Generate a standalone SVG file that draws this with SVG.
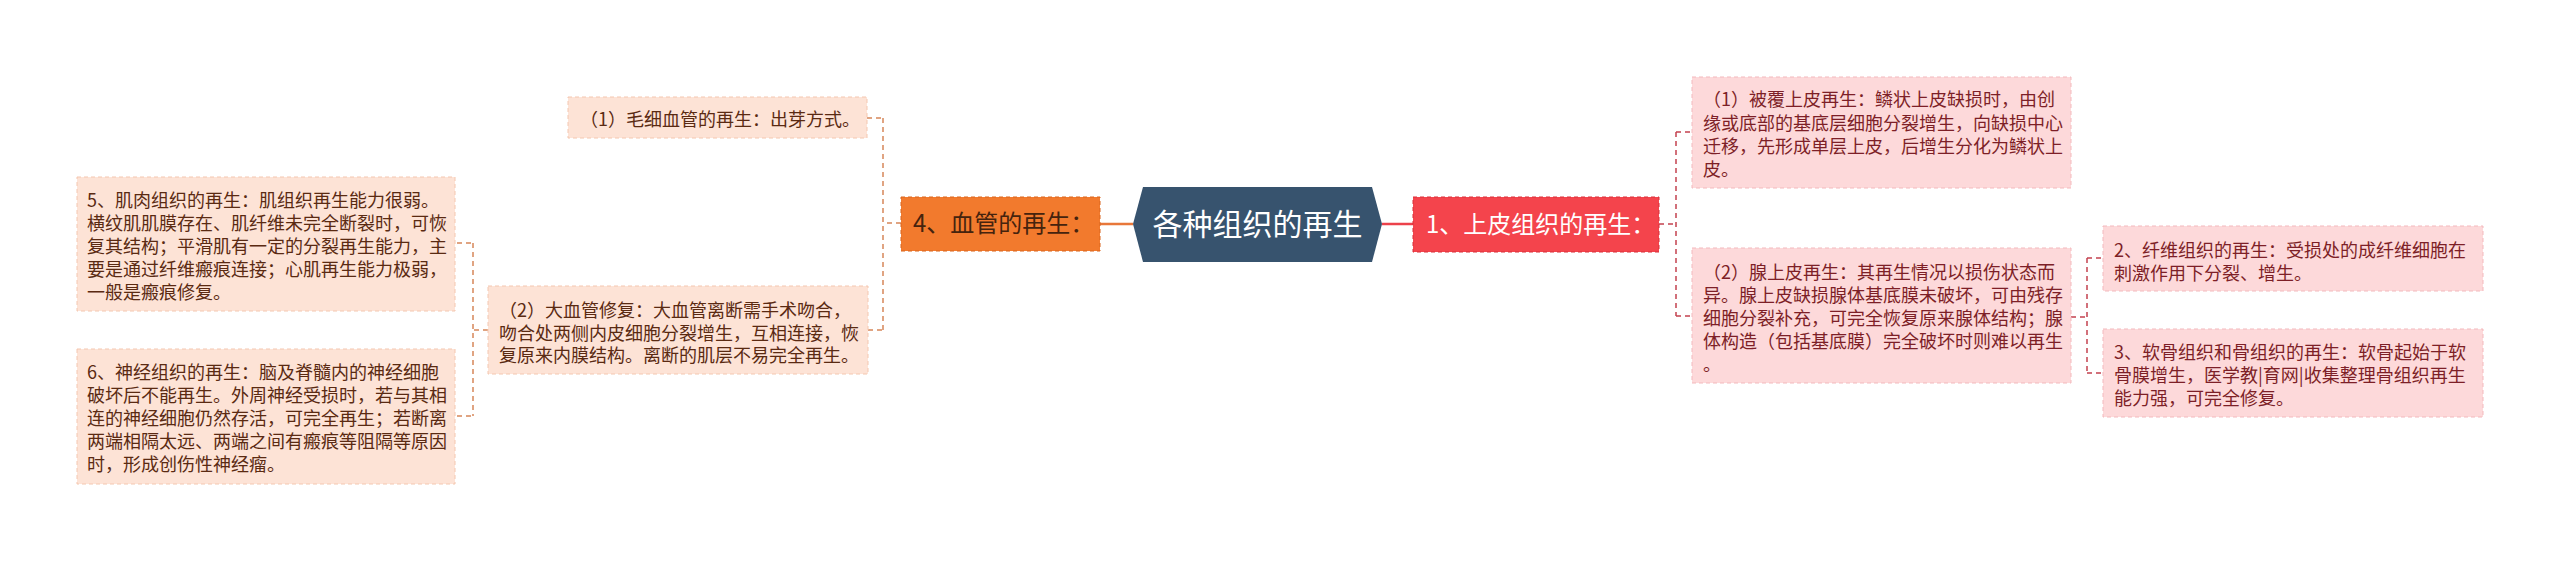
<svg xmlns="http://www.w3.org/2000/svg" width="2560" height="561" viewBox="0 0 2560 561">
<style>
text{font-family:"Noto Sans CJK SC","Noto Sans",sans-serif;}
.t18{font-size:18px;}
.lb{fill:#fde3d6;stroke:#f4c7b0;stroke-width:1;stroke-dasharray:4 3;}
.rb{fill:#fdd9da;stroke:#f3b9bd;stroke-width:1;stroke-dasharray:4 3;}
.lt{fill:#5a2a12;}
.rt{fill:#7d1f27;}
.lc{fill:none;stroke:#d6875a;stroke-width:1.5;stroke-dasharray:5 4;}
.rc{fill:none;stroke:#c4414f;stroke-width:1.5;stroke-dasharray:5 4;}
</style>
<rect width="2560" height="561" fill="#ffffff"/>
<g id="connectors">
<line x1="1100" y1="224" x2="1133" y2="224" stroke="#e8773a" stroke-width="2.5"/>
<line x1="1382" y1="224" x2="1413" y2="224" stroke="#ec424b" stroke-width="2.5"/>
<path class="lc" d="M901 223 H883 M883 118 V330 M867 118 H883 M868 330 H883"/>
<path class="lc" d="M488 330 H473 M473 243 V416 M457 243 H473 M457 416 H473"/>
<path class="rc" d="M1659 224 H1676 M1676 132 V316 M1676 132 H1692 M1676 316 H1692"/>
<path class="rc" d="M2071 317 H2087 M2087 258 V373 M2087 258 H2103 M2087 373 H2103"/>
</g>
<g id="root">
<polygon points="1133,224 1143,187 1372,187 1382,224 1372,262 1143,262" fill="#37536e"/>
<text x="1257.5" y="235" font-size="30" fill="#ffffff" text-anchor="middle">各种组织的再生</text>
</g>
<g id="n4">
<rect x="901" y="197" width="199" height="54" fill="#f27a2d" stroke="#d9641d" stroke-width="1" stroke-dasharray="4 3"/>
<text x="913" y="232" font-size="24" fill="#45230e">4、血管的再生：</text>
</g>
<g id="n4-1">
<rect class="lb" x="568" y="97" width="299" height="41"/>
<text class="t18 lt" x="580" y="126">（1）毛细血管的再生：出芽方式。</text>
</g>
<g id="n4-2">
<rect class="lb" x="488" y="286" width="380" height="88"/>
<text class="t18 lt"><tspan x="499" y="316.5">（2）大血管修复：大血管离断需手术吻合，</tspan><tspan x="499" y="339.5">吻合处两侧内皮细胞分裂增生，互相连接，恢</tspan><tspan x="499" y="362">复原来内膜结构。离断的肌层不易完全再生。</tspan></text>
</g>
<g id="n5">
<rect class="lb" x="77" y="177" width="378" height="134"/>
<text class="t18 lt"><tspan x="87" y="206.5">5、肌肉组织的再生：肌组织再生能力很弱。</tspan><tspan x="87" y="229.5">横纹肌肌膜存在、肌纤维未完全断裂时，可恢</tspan><tspan x="87" y="252.5">复其结构；平滑肌有一定的分裂再生能力，主</tspan><tspan x="87" y="275.5">要是通过纤维瘢痕连接；心肌再生能力极弱，</tspan><tspan x="87" y="298.5">一般是瘢痕修复。</tspan></text>
</g>
<g id="n6">
<rect class="lb" x="77" y="349" width="378" height="135"/>
<text class="t18 lt"><tspan x="87" y="378.5">6、神经组织的再生：脑及脊髓内的神经细胞</tspan><tspan x="87" y="401.5">破坏后不能再生。外周神经受损时，若与其相</tspan><tspan x="87" y="424.5">连的神经细胞仍然存活，可完全再生；若断离</tspan><tspan x="87" y="447.5">两端相隔太远、两端之间有瘢痕等阻隔等原因</tspan><tspan x="87" y="470.5">时，形成创伤性神经瘤。</tspan></text>
</g>
<g id="n1">
<rect x="1413" y="197" width="246" height="55" fill="#f4444c" stroke="#d92f38" stroke-width="1" stroke-dasharray="4 3"/>
<text x="1426" y="233" font-size="24" fill="#ffffff">1、上皮组织的再生：</text>
</g>
<g id="n1-1">
<rect class="rb" x="1692" y="77" width="379" height="111"/>
<text class="t18 rt"><tspan x="1703" y="106">（1）被覆上皮再生：鳞状上皮缺损时，由创</tspan><tspan x="1703" y="129.5">缘或底部的基底层细胞分裂增生，向缺损中心</tspan><tspan x="1703" y="152.5">迁移，先形成单层上皮，后增生分化为鳞状上</tspan><tspan x="1703" y="175.5">皮。</tspan></text>
</g>
<g id="n1-2">
<rect class="rb" x="1692" y="248" width="379" height="135"/>
<text class="t18 rt"><tspan x="1703" y="278.5">（2）腺上皮再生：其再生情况以损伤状态而</tspan><tspan x="1703" y="301.5">异。腺上皮缺损腺体基底膜未破坏，可由残存</tspan><tspan x="1703" y="324.5">细胞分裂补充，可完全恢复原来腺体结构；腺</tspan><tspan x="1703" y="347.5">体构造（包括基底膜）完全破坏时则难以再生</tspan><tspan x="1703" y="370.5">。</tspan></text>
</g>
<g id="n2">
<rect class="rb" x="2103" y="226" width="380" height="65"/>
<text class="t18 rt"><tspan x="2114" y="256.5">2、纤维组织的再生：受损处的成纤维细胞在</tspan><tspan x="2114" y="279.5">刺激作用下分裂、增生。</tspan></text>
</g>
<g id="n3">
<rect class="rb" x="2103" y="329" width="380" height="88"/>
<text class="t18 rt"><tspan x="2114" y="358.5">3、软骨组织和骨组织的再生：软骨起始于软</tspan><tspan x="2114" y="381.5">骨膜增生，医学教|育网|收集整理骨组织再生</tspan><tspan x="2114" y="404.5">能力强，可完全修复。</tspan></text>
</g>
</svg>
